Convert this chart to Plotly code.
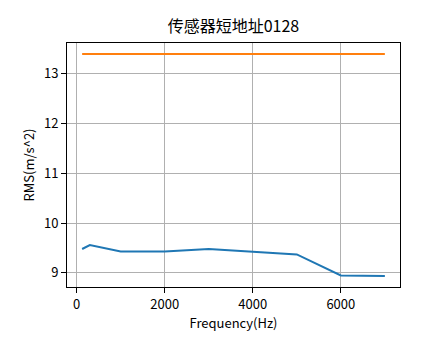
import plotly.graph_objects as go

freq = [125, 300, 1000, 2000, 3000, 4000, 5000, 6000, 7000]
rms_measured = [9.48, 9.56, 9.43, 9.43, 9.48, 9.42, 9.37, 8.95, 8.94]
rms_limit = [13.39] * len(freq)

x_ticks = [0, 2000, 4000, 6000]
y_ticks = [9, 10, 11, 12, 13]

font = "Noto Sans CJK SC, DejaVu Sans, sans-serif"

fig = go.Figure()
fig.add_trace(go.Scatter(x=freq, y=rms_measured, mode="lines",
                         line=dict(color="#1f77b4", width=2)))
fig.add_trace(go.Scatter(x=freq, y=rms_limit, mode="lines",
                         line=dict(color="#ff7f0e", width=2)))

span_x = max(freq) - min(freq)
ymin = min(rms_measured + rms_limit)
ymax = max(rms_measured + rms_limit)
span_y = ymax - ymin

axis_common = dict(showline=True, linecolor="black", linewidth=1, mirror=True,
                   showgrid=True, gridcolor="#b0b0b0", gridwidth=1,
                   ticks="outside", ticklen=5, tickcolor="black",
                   zeroline=False, automargin=False,
                   tickfont=dict(size=13, color="black", family=font))

fig.update_layout(
    width=444, height=359,
    margin=dict(l=67, r=44, t=43, b=72, autoexpand=False),
    paper_bgcolor="white", plot_bgcolor="white",
    showlegend=False,
    font=dict(family=font, color="black"),
    title=dict(text="传感器短地址0128", x=0.5, xanchor="center", xref="paper",
               y=1, yref="container", yanchor="top", pad=dict(t=21),
               automargin=False,
               font=dict(size=16, color="black", family=font)),
    xaxis=dict(range=[min(freq) - 0.05 * span_x, max(freq) + 0.05 * span_x],
               tickvals=x_ticks, ticktext=[str(v) for v in x_ticks],
               title=dict(text="Frequency(Hz)", font=dict(size=13, family=font), standoff=4),
               **axis_common),
    yaxis=dict(range=[ymin - 0.05 * span_y, ymax + 0.05 * span_y],
               tickvals=y_ticks, ticktext=[str(v) for v in y_ticks],
               title=dict(text="RMS(m/s^2)", font=dict(size=13, family=font), standoff=6),
               **axis_common),
)

fig.write_html("out.html", config={"displayModeBar": False},
               post_script="document.body.style.margin='0';document.body.style.padding='0';")
